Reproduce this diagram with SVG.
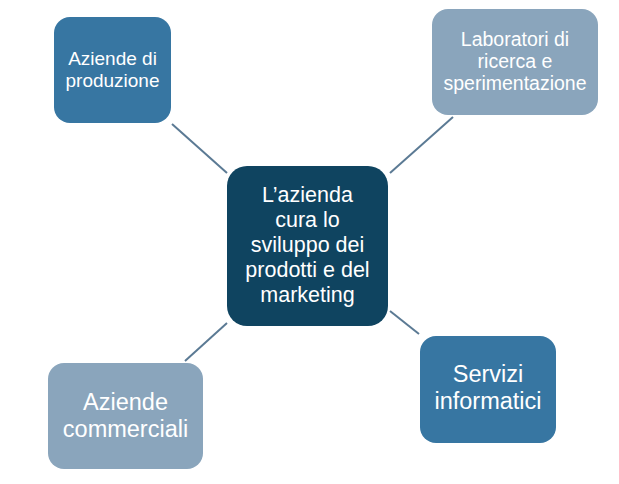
<svg xmlns="http://www.w3.org/2000/svg" width="619" height="484" viewBox="0 0 619 484">
<style>
.box{stroke:none}
.mid{fill:#3776a2}
.dark{fill:#0f4460}
.light{fill:#8aa5bc}
.t{font-family:"Liberation Sans",Arial,sans-serif;fill:#ffffff;text-anchor:middle}
.conn line{stroke:#5b7a94;stroke-width:2}
</style>
<rect width="619" height="484" fill="#ffffff"/>
<g id="connectors" class="conn">
<line x1="172" y1="124" x2="227" y2="173"/>
<line x1="453" y1="117" x2="390" y2="173"/>
<line x1="227" y1="323" x2="185" y2="361"/>
<line x1="390" y1="311" x2="419" y2="334"/>
</g>
<g id="node-produzione">
<rect class="box mid" x="54" y="17" width="117" height="106" rx="16"/>
<text class="t" font-size="19" x="112.5" y="65">Aziende di</text>
<text class="t" font-size="19" x="112.5" y="87">produzione</text>
</g>
<g id="node-laboratori">
<rect class="box light" x="432" y="9" width="166" height="106" rx="16"/>
<text class="t" font-size="19.5" x="515" y="46">Laboratori di</text>
<text class="t" font-size="19.5" x="515" y="68">ricerca e</text>
<text class="t" font-size="19.5" x="515" y="90">sperimentazione</text>
</g>
<g id="node-centro">
<rect class="box dark" x="227" y="166" width="161" height="160" rx="20"/>
<text class="t" font-size="21.5" x="307.5" y="202">L’azienda</text>
<text class="t" font-size="21.5" x="307.5" y="227">cura lo</text>
<text class="t" font-size="21.5" x="307.5" y="252">sviluppo dei</text>
<text class="t" font-size="21.5" x="307.5" y="277">prodotti e del</text>
<text class="t" font-size="21.5" x="307.5" y="302">marketing</text>
</g>
<g id="node-commerciali">
<rect class="box light" x="48" y="363" width="155" height="106" rx="16"/>
<text class="t" font-size="23.5" x="125.5" y="410">Aziende</text>
<text class="t" font-size="23.5" x="125.5" y="437">commerciali</text>
</g>
<g id="node-servizi">
<rect class="box mid" x="420" y="336" width="136" height="107" rx="16"/>
<text class="t" font-size="23.5" x="488" y="382">Servizi</text>
<text class="t" font-size="23.5" x="488" y="409">informatici</text>
</g>
</svg>
